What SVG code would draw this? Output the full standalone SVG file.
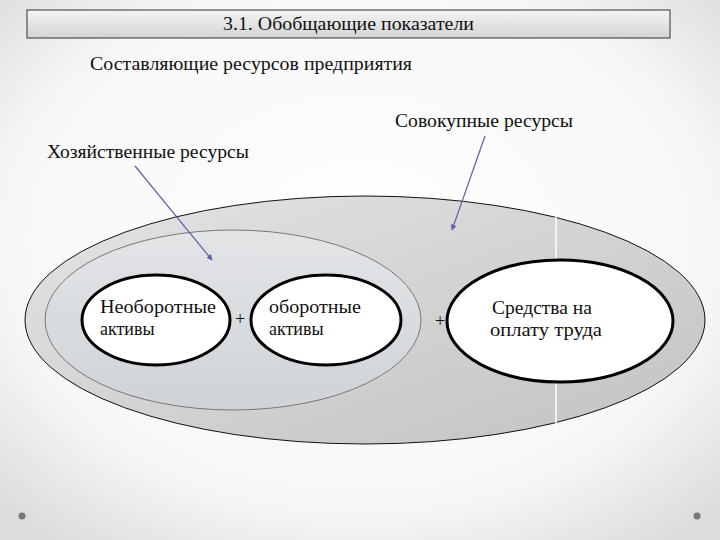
<svg xmlns="http://www.w3.org/2000/svg" width="720" height="540" viewBox="0 0 720 540">
<defs>
<radialGradient id="bg" cx="50%" cy="45%" r="70%"><stop offset="0" stop-color="#ffffff"/><stop offset="0.7" stop-color="#f7f7f7"/><stop offset="1" stop-color="#dcdcdc"/></radialGradient>
<linearGradient id="title" x1="0" y1="0" x2="0" y2="1"><stop offset="0" stop-color="#f4f4f4"/><stop offset="1" stop-color="#d4d4d4"/></linearGradient>
<linearGradient id="big" x1="0" y1="0" x2="1" y2="1"><stop offset="0" stop-color="#e4e4e4"/><stop offset="1" stop-color="#c2c2c2"/></linearGradient>
<linearGradient id="inner" x1="0" y1="0" x2="0" y2="1"><stop offset="0" stop-color="#e3e5e7"/><stop offset="1" stop-color="#cfd3d7"/></linearGradient>
<marker id="ah" viewBox="0 0 10 10" refX="9" refY="5" markerWidth="5" markerHeight="5" orient="auto"><path d="M0,0 L10,5 L0,10 z" fill="#5a63a8"/></marker>
<style>
text{font-family:"Liberation Serif",serif;fill:#111;font-size:18px}
.w{fill:#fff;stroke:#000;stroke-width:3}
.l{stroke:#5a63a8;stroke-width:1.2;fill:none;marker-end:url(#ah)}
</style>
</defs>
<rect width="720" height="540" fill="url(#bg)"/>
<g id="title-box"><rect x="27" y="10" width="643" height="28" fill="url(#title)" stroke="#333" stroke-width="1"/><text x="223" y="30" textLength="251" lengthAdjust="spacingAndGlyphs">3.1. Обобщающие показатели</text></g>
<text x="90" y="70" textLength="322" lengthAdjust="spacingAndGlyphs">Составляющие ресурсов предприятия</text>
<g id="total"><ellipse cx="365" cy="320" rx="340" ry="124" fill="url(#big)" stroke="#111" stroke-width="1"/><line x1="556" y1="215" x2="556" y2="430" stroke="#fff" stroke-width="1.5"/><text x="395" y="127" textLength="178" lengthAdjust="spacingAndGlyphs">Совокупные ресурсы</text></g>
<g id="economic"><ellipse cx="233" cy="320" rx="188" ry="90" fill="url(#inner)" stroke="#777" stroke-width="1"/><text x="47" y="158" textLength="202" lengthAdjust="spacingAndGlyphs">Хозяйственные ресурсы</text></g>
<g id="noncurrent"><ellipse class="w" cx="156" cy="320" rx="74" ry="45"/><text x="100" y="313" textLength="116" lengthAdjust="spacingAndGlyphs">Необоротные</text><text x="100" y="335">активы</text></g>
<g id="current"><ellipse class="w" cx="326" cy="320" rx="75" ry="45"/><text x="269" y="313" textLength="92" lengthAdjust="spacingAndGlyphs">оборотные</text><text x="269" y="335">активы</text></g>
<g id="labor"><ellipse class="w" cx="560" cy="321" rx="113" ry="61"/><text x="492" y="314" textLength="100" lengthAdjust="spacingAndGlyphs">Средства на</text><text x="490" y="336" textLength="112" lengthAdjust="spacingAndGlyphs">оплату труда</text></g>
<text x="240" y="325" font-size="15" text-anchor="middle">+</text>
<text x="440" y="327" font-size="15" text-anchor="middle">+</text>
<g id="connectors"><line class="l" x1="135" y1="166" x2="212" y2="260"/><line class="l" x1="485" y1="136" x2="452" y2="230"/></g>
<circle cx="22" cy="516" r="3.5" fill="#777"/><circle cx="697" cy="516" r="3.5" fill="#777"/>
</svg>
